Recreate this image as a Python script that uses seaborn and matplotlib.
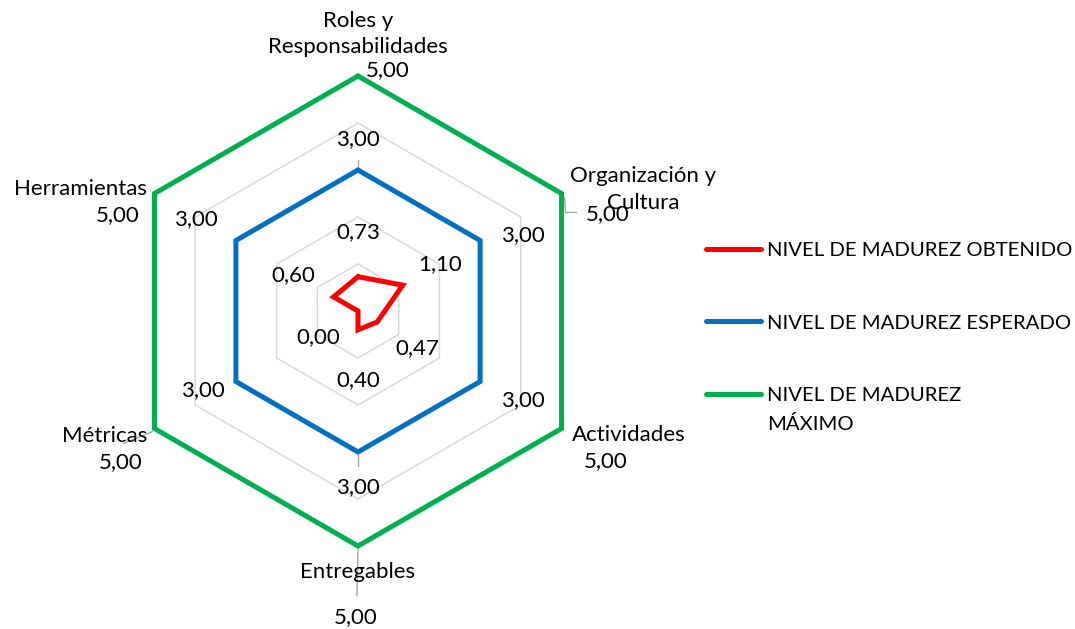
import numpy as np
import pandas as pd
import matplotlib
matplotlib.use("Agg")
import matplotlib.pyplot as plt
import seaborn as sns

# ---------------- data ----------------
categorias = ["Roles y\nResponsabilidades", "Organización y\nCultura", "Actividades",
              "Entregables", "Métricas", "Herramientas"]
obtenido = [0.73, 1.10, 0.47, 0.40, 0.00, 0.60]
esperado = [3.00, 3.00, 3.00, 3.00, 3.00, 3.00]
maximo = [5.00, 5.00, 5.00, 5.00, 5.00, 5.00]
series = ["NIVEL DE MADUREZ OBTENIDO", "NIVEL DE MADUREZ ESPERADO", "NIVEL DE MADUREZ\nMÁXIMO"]
niveles_grid = [1, 2, 3, 4, 5]

# ---------------- style ----------------
colores = ["#FF0000", "#0070C0", "#00B050"]
FS = 16
FS_LEG = 14.6
sns.set_theme(style="white")
plt.rcParams['font.family'] = ['Lato', 'DejaVu Sans']
plt.rcParams['text.color'] = '#000000'

angulos = np.deg2rad(90 - 60 * np.arange(len(categorias)))


def to_xy(vals):
    v = np.append(np.asarray(vals, float), vals[0])
    a = np.append(angulos, angulos[0])
    return v * np.cos(a), v * np.sin(a)


rows = []
for s, vals in zip(series, [obtenido, esperado, maximo]):
    x, y = to_xy(vals)
    for i, (xi, yi) in enumerate(zip(x, y)):
        rows.append(dict(serie=s, orden=i, x=xi, y=yi))
df = pd.DataFrame(rows)

W, H = 1075, 629
fig = plt.figure(figsize=(W / 100, H / 100), dpi=100)
ax = fig.add_axes([0, 0, 1, 1])
unit, cx, cy = 47.0, 358.0, 311.0
ax.set_xlim(-cx / unit, (W - cx) / unit)
ax.set_ylim(-(H - cy) / unit, cy / unit)
ax.axis('off')

# gridlines (hexagons)
for r in niveles_grid:
    gx, gy = to_xy([r] * len(categorias))
    ax.plot(gx, gy, color="#D9D9D9", lw=1.1, zorder=1)

sns.lineplot(data=df, x="x", y="y", hue="serie", hue_order=series,
             palette=dict(zip(series, colores)), sort=False, estimator=None,
             linewidth=3.6, ax=ax, zorder=3)
for ln in ax.lines:
    ln.set_solid_joinstyle('miter')

PT = 0.72  # px -> pt at 100 dpi


def vertex(vals, i):
    return vals[i] * np.cos(angulos[i]), vals[i] * np.sin(angulos[i])


def fmt(v):
    return f"{v:.2f}".replace(".", ",")


# data labels (pixel offsets: right, down)
off_obt = [(0, -45), (37, -21), (40, 26), (0, 50), (-40, 26), (-40, -22)]
off_esp = [(0, -31), (43, -5), (43, 19), (0, 35), (-33, 9), (-40, -21)]
off_max = [(30, -6), (46, 21), (44, 33), (-2, 71), (-34, 34), (-37, 22)]
for vals, offs in [(obtenido, off_obt), (esperado, off_esp), (maximo, off_max)]:
    for i, (dx, dy) in enumerate(offs):
        ax.annotate(fmt(vals[i]), xy=vertex(vals, i), xytext=(dx * PT, -dy * PT),
                    textcoords="offset points", ha="center", va="center",
                    fontsize=FS, zorder=5)

# category labels
off_cat = [(0, -42), (82, -4), (67, 7), (0, 26), (-50, 8), (-74, -4)]
for i, (dx, dy) in enumerate(off_cat):
    ax.annotate(categorias[i], xy=vertex(maximo, i), xytext=(dx * PT, -dy * PT),
                textcoords="offset points", ha="center", va="center",
                fontsize=FS, linespacing=1.4, zorder=5)

# leader lines (pixel offsets from the vertex)
leaders = [(esperado, 0, [(0, -3), (0, -10)]),
           (esperado, 3, [(0, 3), (0, 14)]),
           (maximo, 1, [(3, 4), (4, 19), (15, 19)]),
           (maximo, 4, [(-2, 3), (-31, 15)]),
           (maximo, 3, [(0, 3), (-1, 50)])]
for vals, i, pts in leaders:
    vx, vy = vertex(vals, i)
    lx = [vx + dx / unit for dx, dy in pts]
    ly = [vy - dy / unit for dx, dy in pts]
    ax.plot(lx, ly, color="#A6A6A6", lw=1.0, zorder=2)

sns.move_legend(ax, loc="upper left",
                bbox_to_anchor=(706 / W, (H - 242) / H),
                bbox_transform=fig.transFigure, frameon=False, title=None,
                fontsize=FS_LEG, handlelength=2.7, handletextpad=0.3,
                labelspacing=2.72, borderpad=0, borderaxespad=0)
leg = ax.get_legend()
for t in leg.get_texts():
    t.set_linespacing(1.75)
handles = leg.get_lines()
for h in handles:
    h.set_linewidth(3.6)
    h.set_solid_capstyle('round')

# align the handle of a wrapped label with its first line
fig.canvas.draw()
texts = leg.get_texts()
bb0 = texts[0].get_window_extent()
h0y = handles[0].get_transform().transform(
    np.column_stack([handles[0].get_xdata(), handles[0].get_ydata()]))[0, 1]
delta = h0y - 0.5 * (bb0.y0 + bb0.y1)
for h, t, lab in zip(handles, texts, series):
    if "\n" in lab:
        bb = t.get_window_extent()
        target = bb.y1 - 0.5 * bb0.height + delta
        tr = h.get_transform()
        xd = np.asarray(h.get_xdata(), float)
        cur = tr.transform(np.column_stack([xd, h.get_ydata()]))
        cur[:, 1] = target
        h.set_ydata(tr.inverted().transform(cur)[:, 1])

fig.savefig("out.png", dpi=100, facecolor="white")
